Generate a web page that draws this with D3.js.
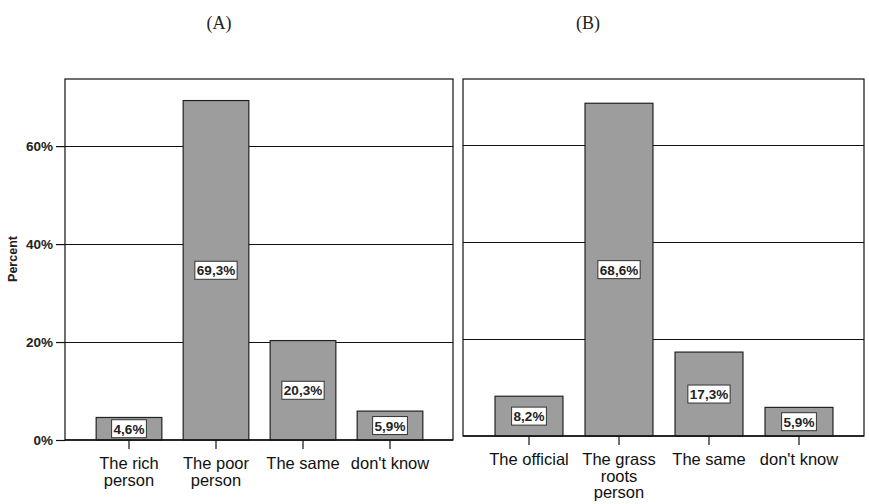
<!DOCTYPE html>
<html>
<head>
<meta charset="utf-8">
<script src="https://cdn.jsdelivr.net/npm/d3@7"></script>
<style>
  html, body { margin: 0; padding: 0; background: #fff; }
  svg { display: block; }
</style>
</head>
<body>
<svg id="chart" width="869" height="504"></svg>
<script>
// ---- data ----
const panelTitles = ["(A)", "(B)"];
const categoriesA = ["The rich\nperson", "The poor\nperson", "The same", "don't know"];
const valuesA = [4.6, 69.3, 20.3, 5.9];
const categoriesB = ["The official", "The grass\nroots\nperson", "The same", "don't know"];
const valuesB = [8.2, 68.6, 17.3, 5.9];
const yTicks = [0, 20, 40, 60];
const yTickLabels = ["0%", "20%", "40%", "60%"];
const yAxisTitle = "Percent";

// ---- layout ----
const svg = d3.select("#chart");
const fmt = v => d3.format(".1f")(v).replace(".", ",") + "%";

const panels = [
  { title: panelTitles[0], cats: categoriesA, vals: valuesA,
    frame: [65, 453, 79, 440], band: [85.5, 433.5], ymax: 73.7, titleX: 219, showY: true },
  { title: panelTitles[1], cats: categoriesB, vals: valuesB,
    frame: [463, 864, 79, 436], band: [484, 844], ymax: 73.6, titleX: 588, showY: false }
];

panels.forEach(p => {
  const [L, R, T, B] = p.frame;
  const g = svg.append("g");
  const x = d3.scaleBand().domain(p.cats).range(p.band).paddingInner(0.245).paddingOuter(0.1225);
  const y = d3.scaleLinear().domain([0, p.ymax]).range([B, T]);

  // title
  svg.append("text").attr("x", p.titleX).attr("y", 29)
    .attr("text-anchor", "middle")
    .style("font-family", "'Liberation Serif', 'Times New Roman', serif")
    .style("font-size", "18px").attr("fill", "#222").text(p.title);

  // frame
  g.append("rect").attr("x", L).attr("y", T).attr("width", R - L).attr("height", B - T)
    .attr("fill", "#fff").attr("stroke", "#111").attr("stroke-width", 1.2);

  // gridlines
  g.selectAll("line.grid").data(yTicks.filter(d => d > 0)).join("line")
    .attr("x1", L).attr("x2", R)
    .attr("y1", d => Math.round(y(d)) + 0.5).attr("y2", d => Math.round(y(d)) + 0.5)
    .attr("stroke", "#111").attr("stroke-width", 1.2);

  // y axis
  if (p.showY) {
    const ax = g.append("g").attr("transform", `translate(${L},0)`)
      .call(d3.axisLeft(y).tickValues(yTicks).tickSize(9).tickPadding(3)
        .tickFormat((d, i) => yTickLabels[i]));
    ax.select(".domain").remove();
    ax.selectAll("line").attr("stroke", "#111").attr("stroke-width", 1.2);
    ax.selectAll("text").attr("fill", "#222")
      .style("font-family", "'Liberation Sans', Arial, sans-serif")
      .style("font-size", "13.5px").style("font-weight", "bold");

    svg.append("text")
      .attr("transform", `translate(17,259) rotate(-90)`)
      .attr("text-anchor", "middle")
      .style("font-family", "'Liberation Sans', Arial, sans-serif")
      .style("font-size", "12.5px").style("font-weight", "bold")
      .attr("fill", "#222").text(yAxisTitle);
  }

  // bars
  g.selectAll("rect.bar").data(p.vals).join("rect")
    .attr("x", (d, i) => x(p.cats[i]))
    .attr("y", d => y(d))
    .attr("width", x.bandwidth())
    .attr("height", d => B - y(d))
    .attr("fill", "#9d9d9d").attr("stroke", "#222").attr("stroke-width", 1.2);

  // baseline
  g.append("line").attr("x1", L).attr("x2", R).attr("y1", B).attr("y2", B)
    .attr("stroke", "#111").attr("stroke-width", 1.4);

  // x axis ticks + labels
  const xa = g.append("g").attr("transform", `translate(0,${B})`)
    .call(d3.axisBottom(x).tickSize(9).tickFormat(""));
  xa.select(".domain").remove();
  xa.selectAll("line").attr("stroke", "#111").attr("stroke-width", 1.2);

  p.cats.forEach(c => {
    const t = g.append("text")
      .attr("x", x(c) + x.bandwidth() / 2).attr("y", B + 29)
      .attr("text-anchor", "middle")
      .style("font-family", "'Liberation Sans', Arial, sans-serif")
      .style("font-size", "16.5px").attr("fill", "#111");
    c.split("\n").forEach((ln, k) => {
      t.append("tspan").attr("x", x(c) + x.bandwidth() / 2)
        .attr("dy", k === 0 ? 0 : 16.5).text(ln);
    });
  });

  // value labels
  p.vals.forEach((v, i) => {
    const cx = x(p.cats[i]) + x.bandwidth() / 2;
    const cy = (y(v) + B) / 2;
    const lg = g.append("g");
    const txt = lg.append("text").attr("x", cx).attr("y", cy + 5)
      .attr("text-anchor", "middle")
      .style("font-family", "'Liberation Sans', Arial, sans-serif")
      .style("font-size", "13.5px").style("font-weight", "bold")
      .attr("fill", "#222").text(fmt(v));
    const bb = txt.node().getBBox();
    lg.insert("rect", "text")
      .attr("x", bb.x - 2).attr("y", cy - 9)
      .attr("width", bb.width + 4).attr("height", 18)
      .attr("fill", "#fff").attr("stroke", "#333").attr("stroke-width", 1);
  });
});
</script>
</body>
</html>
